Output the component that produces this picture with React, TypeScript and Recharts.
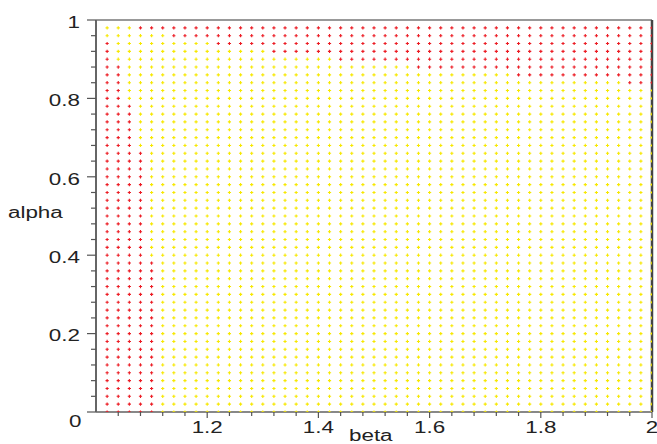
import { Label, ReferenceLine, Scatter, ScatterChart, XAxis, YAxis } from "recharts";

// grid of sampled (beta, alpha) pairs
const betaValues = [
  1.02, 1.04, 1.06, 1.08, 1.1, 1.12, 1.14, 1.16, 1.18, 1.2,
  1.22, 1.24, 1.26, 1.28, 1.3, 1.32, 1.34, 1.36, 1.38, 1.4,
  1.42, 1.44, 1.46, 1.48, 1.5, 1.52, 1.54, 1.56, 1.58, 1.6,
  1.62, 1.64, 1.66, 1.68, 1.7, 1.72, 1.74, 1.76, 1.78, 1.8,
  1.82, 1.84, 1.86, 1.88, 1.9, 1.92, 1.94, 1.96, 1.98, 2.0,
];
const alphaValues = [
  0, 0.02, 0.04, 0.06, 0.08, 0.1, 0.12, 0.14, 0.16, 0.18,
  0.2, 0.22, 0.24, 0.26, 0.28, 0.3, 0.32, 0.34, 0.36, 0.38,
  0.4, 0.42, 0.44, 0.46, 0.48, 0.5, 0.52, 0.54, 0.56, 0.58,
  0.6, 0.62, 0.64, 0.66, 0.68, 0.7, 0.72, 0.74, 0.76, 0.78,
  0.8, 0.82, 0.84, 0.86, 0.88, 0.9, 0.92, 0.94, 0.96, 0.98,
];

// top red band: row alpha -> first beta that is red
const topBandRows = [0.98, 0.96, 0.94, 0.92, 0.9, 0.88, 0.86, 0.84];
const topBandStart = [1.08, 1.14, 1.22, 1.32, 1.44, 1.58, 1.76, 1.96];

// left red band: column beta -> highest alpha that is red
const leftBandCols = [1.02, 1.04, 1.06, 1.08, 1.1];
const leftBandTop = [0.94, 0.88, 0.78, 0.66, 0.38];

const xTicks = [
  1.04, 1.08, 1.12, 1.16, 1.2, 1.24, 1.28, 1.32, 1.36, 1.4, 1.44, 1.48, 1.52,
  1.56, 1.6, 1.64, 1.68, 1.72, 1.76, 1.8, 1.84, 1.88, 1.92, 1.96, 2,
];
const yTicks = [
  0, 0.04, 0.08, 0.12, 0.16, 0.2, 0.24, 0.28, 0.32, 0.36, 0.4, 0.44, 0.48,
  0.52, 0.56, 0.6, 0.64, 0.68, 0.72, 0.76, 0.8, 0.84, 0.88, 0.92, 0.96, 1,
];
const xLabels = [1.2, 1.4, 1.6, 1.8, 2];
const yLabels = [0, 0.2, 0.4, 0.6, 0.8, 1];

const RED = "#ec1c24";
const YELLOW = "#f7e800";
const FONT = "'Liberation Sans', Arial, sans-serif";

const eps = 1e-6;
const near = (a: number, b: number) => Math.abs(a - b) < eps;

function isRed(beta: number, alpha: number) {
  const r = topBandRows.findIndex((a) => near(a, alpha));
  if (r >= 0 && beta >= topBandStart[r] - eps) return true;
  const c = leftBandCols.findIndex((b) => near(b, beta));
  if (c >= 0 && alpha <= leftBandTop[c] + eps) return true;
  return false;
}

const redPoints: { beta: number; alpha: number }[] = [];
const yellowPoints: { beta: number; alpha: number }[] = [];
betaValues.forEach((beta) =>
  alphaValues.forEach((alpha) => {
    (isRed(beta, alpha) ? redPoints : yellowPoints).push({ beta, alpha });
  })
);

const plus = (color: string) => (props: any) => {
  const { cx, cy } = props;
  return (
    <path
      d={`M${cx - 1.6},${cy}h3.2M${cx},${cy - 1.6}v3.2`}
      stroke={color}
      strokeWidth={1.1}
      fill="none"
    />
  );
};

const fmt = (v: number) => (near(v, Math.round(v)) ? String(Math.round(v)) : v.toFixed(1));

function YTick(props: any) {
  const { x, y, payload } = props;
  const v = payload.value as number;
  const major = yLabels.some((l) => near(l, v));
  const isZero = near(v, 0);
  return (
    <g>
      <line x1={x} x2={x - (major ? 9 : 5)} y1={y} y2={y} stroke="#555" strokeWidth={1.2} />
      {major && (
        <text
          transform={`translate(${isZero ? x - 14.5 : x - 16},${isZero ? y + 14.7 : y + 7.7}) scale(1.4,1)`}
          textAnchor="end"
          fontFamily={FONT}
          fontSize={16}
          fill="#222"
        >
          {fmt(v)}
        </text>
      )}
    </g>
  );
}

function XTick(props: any) {
  const { x, y, payload } = props;
  const v = payload.value as number;
  const major = xLabels.some((l) => near(l, v));
  return (
    <g>
      <line x1={x} x2={x} y1={y} y2={y + (major ? 6 : 4)} stroke="#555" strokeWidth={1.2} />
      {major && (
        <text
          transform={`translate(${x},${y + 21.3}) scale(1.4,1)`}
          textAnchor="middle"
          fontFamily={FONT}
          fontSize={16}
          fill="#222"
        >
          {fmt(v)}
        </text>
      )}
    </g>
  );
}

export default function App() {
  return (
    <div style={{ position: "absolute", left: 0, top: 0, background: "#fff" }}>
      <ScatterChart width={657} height={444} margin={{ top: 20, right: 5, left: 0, bottom: 0 }}>
        <XAxis
          type="number"
          dataKey="beta"
          domain={[1, 2]}
          ticks={xTicks}
          interval={0}
          tickSize={0}
          tickMargin={0}
          height={32}
          axisLine={{ stroke: "#888", strokeWidth: 2 }}
          tickLine={false}
          tick={<XTick />}
          allowDataOverflow
        >
          <Label
            content={() => (
              <text
                transform="translate(349,440.5) scale(1.4,1)"
                fontFamily={FONT}
                fontSize={16}
                fill="#222"
              >
                beta
              </text>
            )}
          />
        </XAxis>
        <YAxis
          type="number"
          dataKey="alpha"
          domain={[0, 1]}
          ticks={yTicks}
          interval={0}
          tickSize={0}
          tickMargin={0}
          width={96}
          axisLine={{ stroke: "#666", strokeWidth: 2 }}
          tickLine={false}
          tick={<YTick />}
          allowDataOverflow
        >
          <Label
            content={() => (
              <text
                transform="translate(8,218) scale(1.4,1)"
                fontFamily={FONT}
                fontSize={16}
                fill="#222"
              >
                alpha
              </text>
            )}
          />
        </YAxis>
        <Scatter data={yellowPoints} shape={plus(YELLOW)} isAnimationActive={false} />
        <Scatter data={redPoints} shape={plus(RED)} isAnimationActive={false} />
        <ReferenceLine y={1} stroke="#999" strokeWidth={2} />
        <ReferenceLine x={2} stroke="#444" strokeWidth={2.5} />
      </ScatterChart>
    </div>
  );
}
